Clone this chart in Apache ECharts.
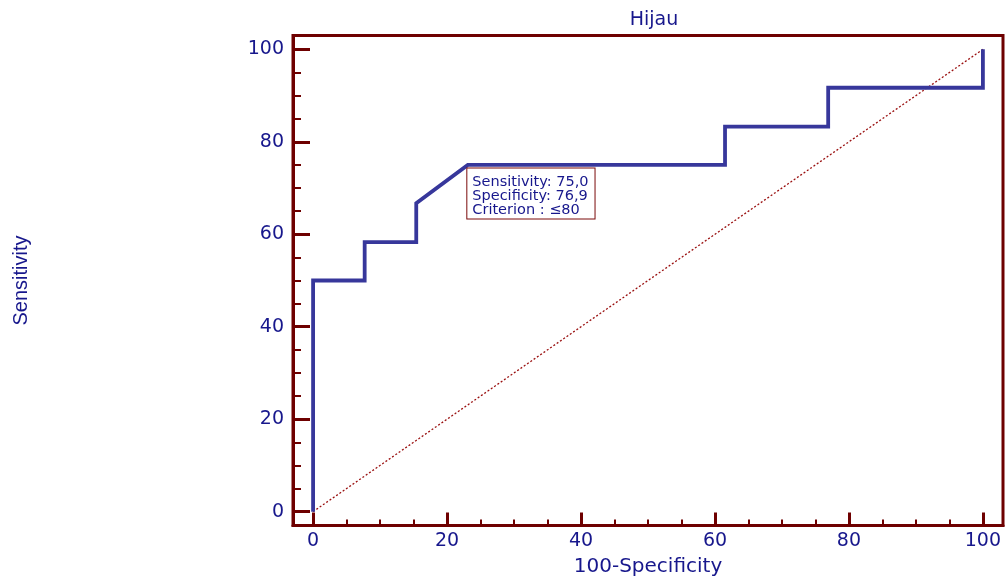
<!DOCTYPE html>
<html>
<head>
<meta charset="utf-8">
<script src="https://cdn.jsdelivr.net/npm/echarts@6/dist/echarts.min.js"></script>
<style>
html,body{margin:0;padding:0;background:#fff;}
#c{width:1005px;height:578px;}
</style>
</head>
<body>
<div id="c"></div>
<script>
// ROC curve (100-Specificity, Sensitivity)
const rocX = [0, 0, 7.7, 7.7, 15.4, 15.4, 23.1, 61.5, 61.5, 76.9, 76.9, 100, 100];
const rocY = [0, 50, 50, 58.3, 58.3, 66.7, 75, 75, 83.3, 83.3, 91.7, 91.7, 100];
const diagX = [0, 100];
const diagY = [0, 100];
const majorTicks = [0, 20, 40, 60, 80, 100];
const minorTicks = [5, 10, 15, 25, 30, 35, 45, 50, 55, 65, 70, 75, 85, 90, 95];
const cutPoint = [23.1, 75];
const cutLines = ['Sensitivity: 75,0', 'Specificity: 76,9', 'Criterion : \u226480'];
const titleText = 'Hijau';
const xName = '100-Specificity';
const yName = 'Sensitivity';

const axisRed = '#6e0000';
const navy = '#17178c';

const chart = echarts.init(document.getElementById('c'), null, {renderer: 'canvas'});

function mainAxis(tickLen, labelMargin, isX) {
  return {
    type: 'value', min: -3, max: 103, gridIndex: 0,
    position: isX ? 'bottom' : 'left',
    axisLine: {show: true, onZero: false, lineStyle: {color: axisRed, width: 3}},
    axisTick: {show: true, inside: true, length: tickLen, customValues: majorTicks,
               lineStyle: {color: axisRed, width: 3}},
    axisLabel: {show: true, customValues: majorTicks, margin: labelMargin, color: navy,
                fontFamily: 'DejaVu Sans', fontSize: 19},
    splitLine: {show: false}
  };
}
function minorAxis(tickLen, isX) {
  return {
    type: 'value', min: -3, max: 103, gridIndex: 0,
    position: isX ? 'bottom' : 'left',
    axisLine: {show: false, onZero: false},
    axisTick: {show: true, inside: true, length: tickLen, customValues: minorTicks,
               lineStyle: {color: axisRed, width: 2}},
    axisLabel: {show: false},
    splitLine: {show: false}
  };
}

const x0 = mainAxis(13, 6, true);
x0.name = xName;
x0.nameLocation = 'middle';
x0.nameGap = 31;
x0.nameTextStyle = {color: navy, fontFamily: 'DejaVu Sans', fontSize: 20};
const y0 = mainAxis(17, 9, false);
y0.name = yName;
y0.nameLocation = 'middle';
y0.nameGap = 262;
y0.nameRotate = 90;
y0.nameTextStyle = {color: navy, fontFamily: 'Liberation Sans', fontSize: 20};

chart.setOption({
  animation: false,
  backgroundColor: '#fff',
  title: {
    text: titleText, left: 649, top: 6, textAlign: 'center',
    textStyle: {color: navy, fontFamily: 'DejaVu Sans', fontSize: 19, fontWeight: 'normal'}
  },
  grid: {left: 293, right: 2, top: 35.5, bottom: 52.5, show: true,
         outerBoundsMode: 'none', containLabel: false,
         borderColor: axisRed, borderWidth: 3, backgroundColor: 'transparent'},
  xAxis: [x0, minorAxis(6, true)],
  yAxis: [y0, minorAxis(8, false)],
  series: [
    {
      type: 'line', xAxisIndex: 0, yAxisIndex: 0,
      data: diagX.map((v, i) => [v, diagY[i]]),
      symbol: 'none', z: 2,
      lineStyle: {color: '#9a1010', width: 1.3, type: [2, 2]}
    },
    {
      type: 'line', xAxisIndex: 0, yAxisIndex: 0,
      data: rocX.map((v, i) => [v, rocY[i]]),
      symbol: 'none', z: 3,
      lineStyle: {color: '#37379b', width: 3.8, join: 'miter'}
    },
    {
      type: 'scatter', xAxisIndex: 0, yAxisIndex: 0,
      data: [cutPoint], symbolSize: 1, z: 4,
      itemStyle: {color: 'rgba(0,0,0,0)'},
      emphasis: {disabled: true},
      label: {
        show: true, position: [0, 4], align: 'left', verticalAlign: 'top',
        formatter: cutLines.join('\n'), opacity: 1,
        color: navy, fontFamily: 'DejaVu Sans', fontSize: 14.5, lineHeight: 14,
        backgroundColor: '#fff', borderColor: '#7a0a0a', borderWidth: 1,
        padding: [7, 6, 1, 5]
      }
    }
  ]
});
</script>
</body>
</html>
